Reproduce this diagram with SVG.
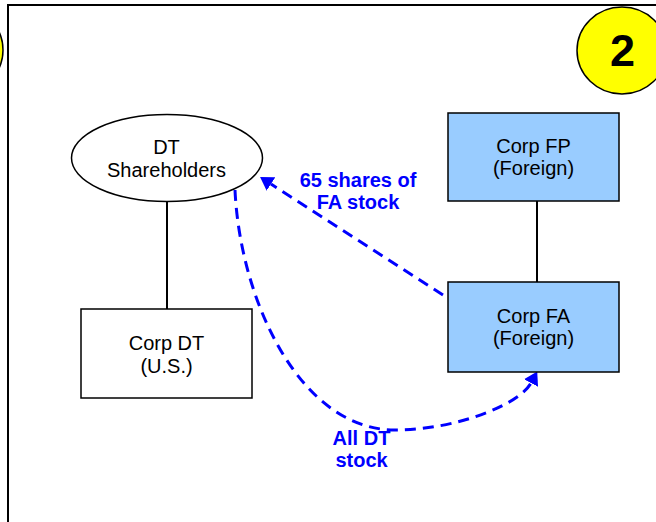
<svg xmlns="http://www.w3.org/2000/svg" width="656" height="522" viewBox="0 0 656 522">
<style>
.node{stroke:#000;stroke-width:1.5}
.plain{fill:#fff}
.blue{fill:#99CCFF}
.lbl{font-family:"Liberation Sans",Arial,sans-serif;font-size:20px;fill:#000;text-anchor:middle}
.elbl{font-family:"Liberation Sans",Arial,sans-serif;font-size:20px;font-weight:bold;fill:#0000FF;text-anchor:middle}
.solid{stroke:#000;stroke-width:2;fill:none}
.dash{stroke:#0000FF;stroke-width:3;fill:none;stroke-dasharray:11 7}
.badge{fill:#FFFF00;stroke:#000;stroke-width:1.5}
</style>
<defs>
<marker id="ah" markerUnits="userSpaceOnUse" markerWidth="14" markerHeight="16" refX="0" refY="8" orient="auto">
<path d="M0,0 L13,8 L0,16 z" fill="#0000FF"/>
</marker>
</defs>
<rect width="656" height="522" fill="#fff"/>
<g id="frame">
<line x1="8" y1="5" x2="656" y2="5" stroke="#000" stroke-width="2"/>
<line x1="8" y1="4" x2="8" y2="522" stroke="#000" stroke-width="2"/>
<ellipse class="badge" cx="-42" cy="50" rx="45" ry="43.5"/>
</g>
<g id="badge">
<ellipse class="badge" cx="622" cy="50.5" rx="45" ry="43.5"/>
<text x="622.5" y="65.7" font-family="'Liberation Sans',Arial,sans-serif" font-size="45" font-weight="bold" text-anchor="middle" fill="#000">2</text>
</g>
<g id="connectors">
<line class="solid" x1="167" y1="202" x2="167" y2="309"/>
<line class="solid" x1="537" y1="201" x2="537" y2="282"/>
<path class="dash" d="M443,295 L271,184" marker-end="url(#ah)"/>
<path class="dash" d="M235,190 C240,300 300,430 395,430 C455,430 519,405 531,383" marker-end="url(#ah)"/>
<text class="elbl" x="358" y="186.5">65 shares of</text>
<text class="elbl" x="358" y="208.5">FA stock</text>
<text class="elbl" x="361.5" y="445">All DT</text>
<text class="elbl" x="361.5" y="467">stock</text>
</g>
<g id="dt-shareholders">
<ellipse class="node plain" cx="167" cy="158" rx="95.5" ry="43.5"/>
<text class="lbl" x="166.5" y="154.3">DT</text>
<text class="lbl" x="166.5" y="176.7">Shareholders</text>
</g>
<g id="corp-dt">
<rect class="node plain" x="81" y="309" width="171" height="89"/>
<text class="lbl" x="166.5" y="350">Corp DT</text>
<text class="lbl" x="166.5" y="372.5">(U.S.)</text>
</g>
<g id="corp-fp">
<rect class="node blue" x="448" y="113" width="171" height="88"/>
<text class="lbl" x="533.5" y="152.7">Corp FP</text>
<text class="lbl" x="533.5" y="175">(Foreign)</text>
</g>
<g id="corp-fa">
<rect class="node blue" x="448" y="282" width="171" height="90"/>
<text class="lbl" x="533.5" y="322.7">Corp FA</text>
<text class="lbl" x="533.5" y="345">(Foreign)</text>
</g>
</svg>
